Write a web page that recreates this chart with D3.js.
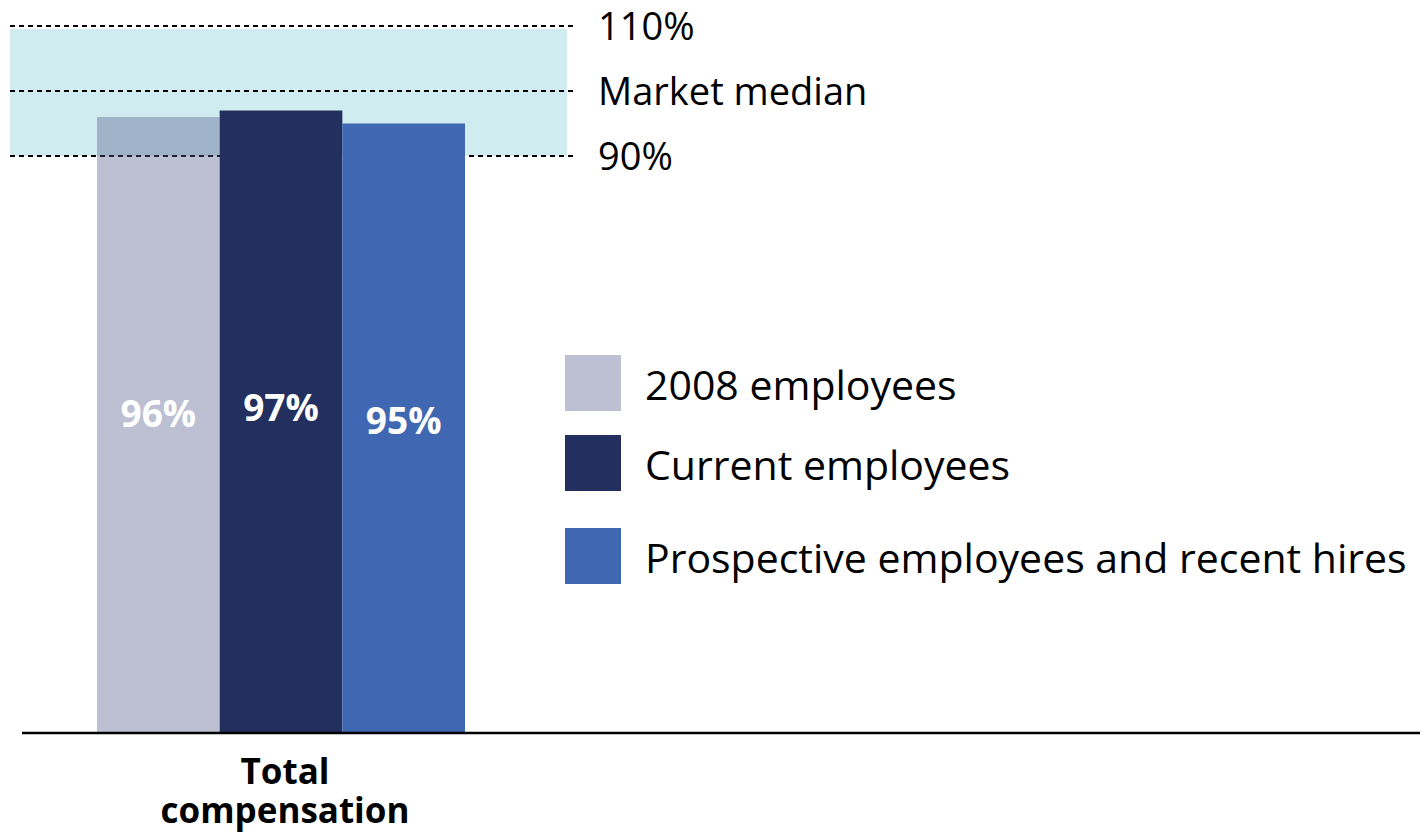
<!DOCTYPE html>
<meta charset="utf-8">
<style>
    body { margin: 0; background: #fff; }
    text { font-family: "Open Sans", "Noto Sans", sans-serif; }
</style>
<svg width="1428" height="835"></svg>
<script src="https://cdn.jsdelivr.net/npm/d3@7"></script>
<script>

    // data
    var category = ["Total", "compensation"];
    var series = ["2008 employees", "Current employees", "Prospective employees and recent hires"];
    var values = [96, 97, 95];
    var refValues = [110, 100, 90];
    var refLabels = ["110%", "Market median", "90%"];

    var colors = ["#50598a", "#232f5f", "#4068b2"];
    var opac = [0.38, 1, 1];

    var svg = d3.select("svg");
    svg.append("rect").attr("fill", "#fff").attr("width", "100%").attr("height", "100%");

    var base = 733;

    // value scale fitted to the reference lines
    var y = d3.scaleLinear().domain([90, 110]).range([156, 26]);

    var x = d3.scaleBand().domain(series).range([97, 465]).padding(0);

    // band between 90% and 110%
    svg.append("rect")
        .attr("x", 10)
        .attr("y", y(110) + 3)
        .attr("width", 557)
        .attr("height", y(90) - y(110) - 3)
        .attr("fill", "#d0ecf0");

    // dashed reference lines
    svg.selectAll(".ref")
        .data(refValues)
        .enter().append("line")
        .attr("x1", 10)
        .attr("x2", 576)
        .attr("y1", function (d) { return y(d); })
        .attr("y2", function (d) { return y(d); })
        .attr("stroke", "#000")
        .attr("stroke-width", 2.2)
        .attr("stroke-dasharray", "5,4");

    svg.selectAll(".refLabel")
        .data(refValues)
        .enter().append("text")
        .attr("x", 598)
        .attr("y", function (d) { return y(d) + 14; })
        .attr("font-size", 38)
        .attr("fill", "#000")
        .text(function (d, i) { return refLabels[i]; });

    // bars
    svg.selectAll(".bar")
        .data(values)
        .enter().append("rect")
        .attr("x", function (d, i) { return x(series[i]); })
        .attr("y", function (d) { return y(d); })
        .attr("width", x.bandwidth())
        .attr("height", function (d) { return base - y(d); })
        .attr("fill", function (d, i) { return colors[i]; })
        .attr("fill-opacity", function (d, i) { return opac[i]; });

    svg.selectAll(".barLabel")
        .data(values)
        .enter().append("text")
        .attr("x", function (d, i) { return x(series[i]) + x.bandwidth() / 2; })
        .attr("y", function (d) { return y(d) + 310; })
        .attr("text-anchor", "middle")
        .attr("font-size", 37)
        .attr("font-weight", "bold")
        .attr("fill", "#fff")
        .text(function (d) { return d + "%"; });

    // axis line
    svg.append("line")
        .attr("x1", 22).attr("x2", 1420)
        .attr("y1", base).attr("y2", base)
        .attr("stroke", "#000")
        .attr("stroke-width", 2.5);

    // category label
    svg.selectAll(".cat")
        .data(category)
        .enter().append("text")
        .attr("x", 285)
        .attr("y", function (d, i) { return 784 + i * 39; })
        .attr("text-anchor", "middle")
        .attr("font-size", 35)
        .attr("font-weight", "bold")
        .text(function (d) { return d; });

    // legend
    var legY = [355, 435, 528];
    var leg = svg.selectAll(".leg")
        .data(series)
        .enter().append("g")
        .attr("transform", function (d, i) { return "translate(565," + legY[i] + ")"; });

    leg.append("rect")
        .attr("width", 56)
        .attr("height", 56)
        .attr("fill", function (d, i) { return colors[i]; })
        .attr("fill-opacity", function (d, i) { return opac[i]; });

    leg.append("text")
        .attr("x", 80)
        .attr("y", 45)
        .attr("font-size", 41)
        .attr("fill", "#000")
        .text(function (d) { return d; });

</script>
